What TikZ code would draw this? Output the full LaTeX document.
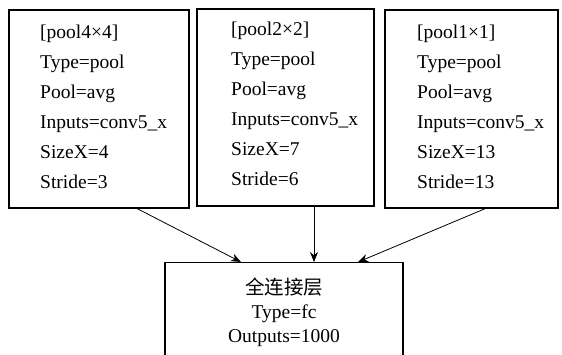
\documentclass[tikz,border=0pt]{standalone}
\usepackage{fontspec}
\setmainfont{Liberation Serif}
\newfontfamily\cjkfont{Noto Sans CJK SC}
\usetikzlibrary{calc,arrows.meta}

\begin{document}
\begin{tikzpicture}[x=1pt, y=-1pt,
    box/.style={draw, line width=1.1pt, inner sep=0pt},
    info/.style={align=left, inner sep=0pt, anchor=north west, font=\fontsize{19.5}{30}\selectfont},
    link/.style={-{Stealth[length=10pt,width=8pt]}, line width=0.8pt}]
    \clip (0,0) rectangle (562,354);

    % Pooling boxes
    \node[box, minimum width=180pt, minimum height=198pt] (pool4) at (99,109) {};
    \node[box, minimum width=177pt, minimum height=197pt] (pool2) at (285.5,107.5) {};
    \node[box, minimum width=173pt, minimum height=198pt] (pool1) at (471.5,109) {};

    \node[info] (pool4txt) at (40,24.5) {[pool4×4]\\Type=pool\\Pool=avg\\Inputs=conv5\_x\\SizeX=4\\Stride=3};
    \node[info] (pool2txt) at (231,21.5) {[pool2×2]\\Type=pool\\Pool=avg\\Inputs=conv5\_x\\SizeX=7\\Stride=6};
    \node[info] (pool1txt) at (417,25) {[pool1×1]\\Type=pool\\Pool=avg\\Inputs=conv5\_x\\SizeX=13\\Stride=13};

    % Fully connected box
    \node[box, minimum width=238pt, minimum height=130pt, anchor=north] (fc) at (284,262) {};
    \node[align=center, inner sep=0pt, anchor=north, font=\fontsize{19.5}{24}\selectfont] (fctxt) at (284,278)
        {{\cjkfont 全连接层}\\Type=fc\\Outputs=1000};

    % Connections
    \coordinate (mid) at ($(pool2.south west)!0.66!(pool2.south east)$);
    \draw[link] ($(pool4.south west)!0.71!(pool4.south east)$) -- ($(fc.north west)!0.32!(fc.north east)$);
    \draw[link] (mid) -- (mid |- fc.north);
    \draw[link] ($(pool1.south west)!0.58!(pool1.south east)$) -- ($(fc.north west)!0.81!(fc.north east)$);
\end{tikzpicture}
\end{document}
